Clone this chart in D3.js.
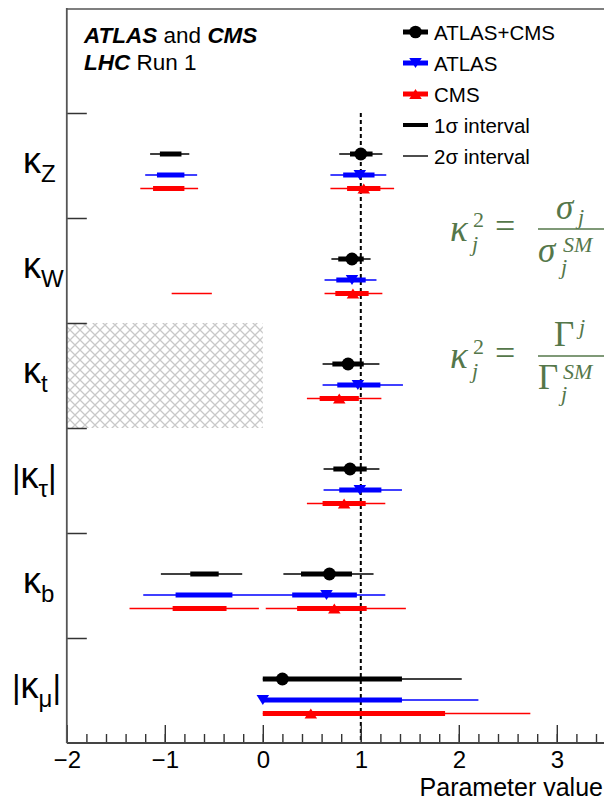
<!DOCTYPE html>
<html><head><meta charset="utf-8">
<script src="https://cdn.jsdelivr.net/npm/d3@7"></script>
<style>
body{margin:0;background:#fff;}
svg{display:block;font-family:"Liberation Sans",Arial,Helvetica,sans-serif;}
</style></head>
<body><svg id="c" width="604" height="801"></svg>
<script>
// ---------------- data ----------------
const parameters = ["kZ","kW","kt","ktau","kb","kmu"];
const paramLabels = [
  {pre:"", k:"κ", sub:"Z", post:""},
  {pre:"", k:"κ", sub:"W", post:""},
  {pre:"", k:"κ", sub:"t", post:""},
  {pre:"|", k:"κ", sub:"τ", post:"|"},
  {pre:"", k:"κ", sub:"b", post:""},
  {pre:"|", k:"κ", sub:"μ", post:"|"}
];
const seriesNames = ["ATLAS+CMS","ATLAS","CMS"];

// best-fit values
const combCentral  = [1.00, 0.91, 0.87, 0.89, 0.68, 0.20];
const atlasCentral = [0.99, 0.91, 0.97, 0.99, 0.65, 0.00];
const cmsCentral   = [1.03, 0.92, 0.78, 0.83, 0.73, 0.49];

// 1 sigma intervals (list of segments per parameter)
const comb1s = [[[-1.05,-0.83],[0.89,1.12]], [[0.77,1.03]], [[0.71,1.03]], [[0.72,1.06]], [[-0.74,-0.45],[0.39,0.91]], [[0.00,1.42]]];
const atlas1s = [[[-1.08,-0.80],[0.82,1.14]], [[0.75,1.05]], [[0.76,1.20]], [[0.78,1.21]], [[-0.89,-0.31],[0.30,0.96]], [[0.00,1.42]]];
const cms1s = [[[-1.12,-0.80],[0.86,1.20]], [[0.74,1.08]], [[0.58,0.98]], [[0.61,1.05]], [[-0.92,-0.37],[0.35,1.06]], [[0.00,1.86]]];

// 2 sigma intervals
const comb2s = [[[-1.15,-0.75],[0.78,1.22]], [[0.70,1.10]], [[0.61,1.19]], [[0.62,1.19]], [[-1.04,-0.21],[0.21,1.13]], [[0.00,2.03]]];
const atlas2s = [[[-1.20,-0.67],[0.69,1.26]], [[0.63,1.16]], [[0.61,1.43]], [[0.62,1.42]], [[-1.22,1.25]], [[0.00,2.20]]];
const cms2s = [[[-1.25,-0.66],[0.69,1.34]], [[-0.93,-0.52],[0.63,1.22]], [[0.45,1.21]], [[0.45,1.25]], [[-1.36,-0.04],[0.03,1.46]], [[0.00,2.73]]];

const xTicks = [-2,-1,0,1,2,3];
const smValue = 1;
const excludedRegion = {param:"kt", from:-2, to:0};

// ---------------- layout ----------------
const svg = d3.select("#c");
const W = 604, H = 801;
const pLeft = 66.8, pRight = 605.8, pTop = 8, pBottom = 743;
const colors = d3.scaleOrdinal().domain(seriesNames).range(["#000000","#0000ff","#ff0000"]);
const rowOffset = d3.scaleOrdinal().domain(seriesNames).range([41, 62, 75.5]);
const markerType = d3.scaleOrdinal().domain(seriesNames).range(["circle","down","up"]);

const x = d3.scaleLinear().domain([-2, 3.5]).range([pLeft, pRight]);
const yBand = d3.scaleBand().domain(["legend", ...parameters]).range([pTop, pBottom]).padding(0);
const yEdge = d3.scaleLinear().domain([0, 7]).range([pTop, pBottom]);

const series = seriesNames.map((name, si) => ({
  name,
  central: [combCentral, atlasCentral, cmsCentral][si],
  s1: [comb1s, atlas1s, cms1s][si],
  s2: [comb2s, atlas2s, cms2s][si]
}));

// hatch pattern
const defs = svg.append("defs");
const pat = defs.append("pattern").attr("id","hatch").attr("patternUnits","userSpaceOnUse")
  .attr("width",10).attr("height",10);
pat.append("path").attr("d","M0,0L10,10M-5,5L5,15M5,-5L15,5M0,10L10,0M-5,5L5,-5M5,15L15,5")
  .attr("stroke","#c8c8c8").attr("stroke-width",1.3);

// excluded region
svg.append("rect")
  .attr("x", x(excludedRegion.from)).attr("width", x(excludedRegion.to)-x(excludedRegion.from))
  .attr("y", yBand(excludedRegion.param)).attr("height", yBand.bandwidth())
  .attr("fill","url(#hatch)");

// SM dashed line
svg.append("line")
  .attr("x1", x(smValue)).attr("x2", x(smValue))
  .attr("y1", yBand(parameters[0])).attr("y2", pBottom)
  .attr("stroke","#000").attr("stroke-width",2).attr("stroke-dasharray","4,3");

// frame
svg.append("line").attr("x1",pLeft).attr("x2",W).attr("y1",pTop+1).attr("y2",pTop+1)
  .attr("stroke","#555").attr("stroke-width",1.6);

// x axis
const gx = svg.append("g").attr("transform",`translate(0,${pBottom})`);
gx.append("g").call(d3.axisBottom(x).tickValues(d3.range(-2, 3.51, 0.2)).tickSize(-9).tickFormat(""));
gx.append("g").call(d3.axisBottom(x).tickValues(xTicks).tickSize(-18).tickPadding(8).tickFormat(d3.format("d")));
gx.selectAll(".domain").remove();
gx.selectAll("line").attr("stroke","#333").attr("stroke-width",1.4);
gx.selectAll("text").attr("font-size",24).attr("fill","#000").attr("font-family","Liberation Sans, Arial, sans-serif");
svg.append("line").attr("x1",pLeft).attr("x2",W).attr("y1",pBottom).attr("y2",pBottom)
  .attr("stroke","#444").attr("stroke-width",1.8);

svg.append("text").attr("x",603).attr("y",796).attr("text-anchor","end")
  .attr("font-size",25).text("Parameter value");

// y axis
const gy = svg.append("g").attr("transform",`translate(${pLeft},0)`);
gy.call(d3.axisLeft(yEdge).tickValues(d3.range(1,7)).tickSize(-20).tickFormat(""));
gy.selectAll(".domain").remove();
gy.selectAll("line").attr("stroke","#333").attr("stroke-width",1.5);
svg.append("line").attr("x1",pLeft).attr("x2",pLeft).attr("y1",pTop).attr("y2",pBottom)
  .attr("stroke","#555").attr("stroke-width",1.8);

// y labels
parameters.forEach((p,i) => {
  const lab = paramLabels[i];
  const cy = yBand(p) + yBand.bandwidth()/2;
  const t = svg.append("text").attr("x", lab.pre ? 12 : 23).attr("y", cy + 7).attr("font-size",36);
  if (lab.pre) t.append("tspan").attr("font-size",33).text(lab.pre);
  t.append("tspan").text(lab.k);
  t.append("tspan").attr("font-size",24).attr("dy",9).text(lab.sub);
  if (lab.post) t.append("tspan").attr("font-size",33).attr("dy",-9).text(lab.post);
});

// markers
function markerPath(type, size){
  if (type === "circle") return d3.symbol(d3.symbolCircle, size)();
  const h = 10, w = 12.5;
  if (type === "down") return `M${-w/2},${-h/2}L${w/2},${-h/2}L0,${h/2}Z`;
  return `M${-w/2},${h/2}L${w/2},${h/2}L0,${-h/2}Z`;
}

// data marks
const g = svg.append("g");
series.forEach(s => {
  const col = colors(s.name);
  parameters.forEach((p,i) => {
    const yy = yBand(p) + rowOffset(s.name);
    s.s2[i].forEach(seg => {
      g.append("line").attr("x1",x(seg[0])).attr("x2",x(seg[1])).attr("y1",yy).attr("y2",yy)
        .attr("stroke",col).attr("stroke-width",1.4);
    });
    s.s1[i].forEach(seg => {
      g.append("line").attr("x1",x(seg[0])).attr("x2",x(seg[1])).attr("y1",yy).attr("y2",yy)
        .attr("stroke",col).attr("stroke-width",5);
    });
    g.append("path").attr("d", markerPath(markerType(s.name), 130))
      .attr("transform",`translate(${x(s.central[i])},${yy})`).attr("fill",col);
  });
});

// legend
const legendRows = [
  {label:"ATLAS+CMS", color:"#000", w:5, m:"circle"},
  {label:"ATLAS", color:"#0000ff", w:5, m:"down"},
  {label:"CMS", color:"#ff0000", w:5, m:"up"},
  {label:"1σ interval", color:"#000", w:4, m:null},
  {label:"2σ interval", color:"#000", w:1.4, m:null}
];
const legendY = d3.scalePoint().domain(legendRows.map(d=>d.label)).range([32, 156]);
legendRows.forEach(r => {
  const yy = legendY(r.label);
  svg.append("line").attr("x1",403).attr("x2",428).attr("y1",yy).attr("y2",yy)
    .attr("stroke",r.color).attr("stroke-width",r.w);
  if (r.m) svg.append("path").attr("d", markerPath(r.m, 125)).attr("transform",`translate(415.5,${yy})`).attr("fill",r.color);
  svg.append("text").attr("x",434).attr("y",yy+7.5).attr("font-size",20.5).text(r.label);
});

// experiment text
const t1 = svg.append("text").attr("x",84).attr("y",43).attr("font-size",22.5);
t1.append("tspan").attr("font-weight","bold").attr("font-style","italic").text("ATLAS");
t1.append("tspan").text(" and ");
t1.append("tspan").attr("font-weight","bold").attr("font-style","italic").text("CMS");
const t2 = svg.append("text").attr("x",84).attr("y",69.5).attr("font-size",22.5);
t2.append("tspan").attr("font-weight","bold").attr("font-style","italic").text("LHC");
t2.append("tspan").text(" Run 1");

// formulas
const green = "#55774a";
const fg = svg.append("g").attr("fill",green).attr("font-family","Liberation Serif, Times New Roman, serif");
function ftext(xx, yy, size, txt, italic){
  fg.append("text").attr("x",xx).attr("y",yy).attr("font-size",size)
    .attr("font-style", italic ? "italic" : "normal").text(txt);
}
function formula(cy, numMain, numItalic, numSup){
  ftext(450, cy+12, 37, "κ", true);
  ftext(473, cy-2, 22, "2", false);
  ftext(472, cy+22, 22, "j", true);
  ftext(495, cy+9, 36, "=", false);
  fg.append("line").attr("x1",538).attr("x2",612).attr("y1",cy).attr("y2",cy)
    .attr("stroke",green).attr("stroke-width",1.6);
  ftext(numSup ? 554 : 556, cy-10, 35, numMain, numItalic);
  if (numSup) ftext(579, cy-22, 22, "j", true);
  else ftext(578, cy-5, 22, "j", true);
  ftext(538, cy+33, 35, numMain, numItalic);
  ftext(563, cy+23, 22, "SM", true);
  ftext(561, cy+45, 22, "j", true);
}
formula(229, "σ", true, false);
formula(356, "Γ", false, true);
</script></body></html>
